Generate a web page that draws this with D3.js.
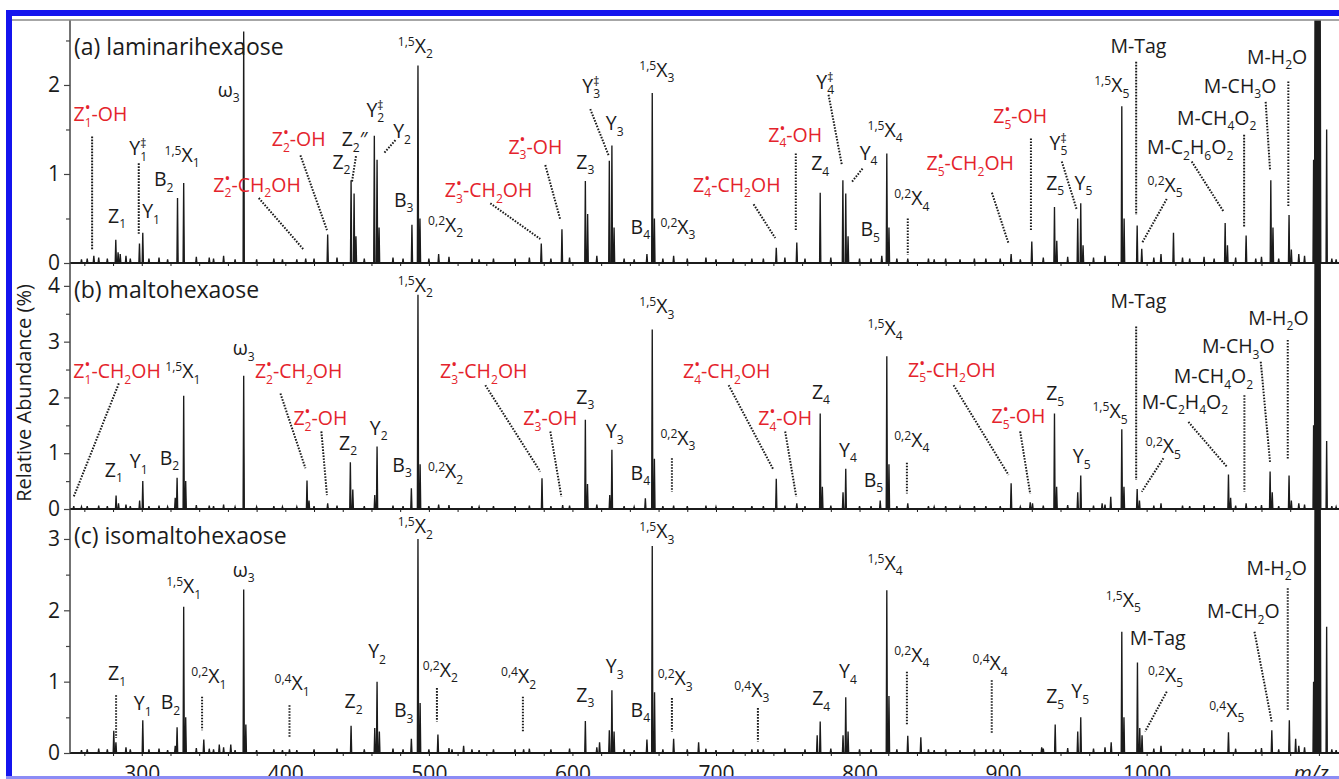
<!DOCTYPE html>
<html>
<head>
<meta charset="utf-8">
<script src="https://cdn.jsdelivr.net/npm/d3@7"></script>
<style>
body { margin: 0; background: #fff; }
svg { display: block; font-family: "Open Sans", sans-serif; }
</style>
</head>
<body>
<svg id="chart" width="1339" height="779"></svg>
<script>
// ---- data ----
var mzDomain = [250, 1134];
var xTickValues = [300, 400, 500, 600, 700, 800, 900, 1000];
var panelTitles = ["(a) laminarihexaose", "(b) maltohexaose", "(c) isomaltohexaose"];
var yMax = [2.73, 4.41, 3.42];
var yTicks = [[0, 1, 2], [0, 1, 2, 3, 4], [0, 1, 2, 3]];

// [m/z, relative abundance %]
var peaksA = [[266.6,0.08],[281.9,0.26],[283.5,0.12],[285,0.1],[298.4,0.22],[300.7,0.34],[324.9,0.73],[329.2,0.9],
  [371.0,2.6],[414.2,0.05],[429.5,0.32],[445.8,0.93],[447.9,0.78],[449.2,0.3],[462.0,1.43],[463.9,1.16],[465.3,0.4],
  [488.2,0.43],[492.4,2.22],[493.8,0.5],[506.8,0.1],[578.3,0.22],[592.7,0.38],[609.0,0.92],[610.6,0.55],[625.7,1.15],
  [627.5,1.32],[629,0.4],[651.9,0.1],[655.6,1.91],[657.1,0.5],[670.5,0.08],[742,0.17],[756.3,0.23],[772.6,0.79],
  [788.4,0.93],[790.4,0.78],[792,0.3],[815.5,0.08],[819.0,1.23],[820.5,0.4],[833.6,0.05],[905.6,0.1],[920.0,0.24],
  [935.8,0.63],[937.4,0.25],[952.0,0.5],[954.1,0.67],[955.7,0.2],[982.7,1.76],[984.3,0.5],[993.4,0.42],[996.6,0.16],
  [1018.7,0.34],[1054.7,0.45],[1056.3,0.2],[1069.3,0.31],[1086.5,0.93],[1088,0.4],[1099.2,0.54],[1100.8,0.15],
  [1116.3,1.16],[1125.4,1.5]];
var peaksB = [[252.6,0.05],[282.1,0.24],[283.8,0.1],[298.5,0.15],[300.7,0.5],[323.3,0.2],[324.6,0.56],[329.2,2.03],
  [330.6,0.5],[371.0,2.39],[415.1,0.51],[416.5,0.15],[429.5,0.1],[445.3,0.84],[447,0.35],[462.3,0.25],[463.9,1.12],
  [487.8,0.37],[492.4,3.84],[493.9,0.8],[506.8,0.08],[578.8,0.55],[593.2,0.07],[609.0,1.6],[610.5,0.45],[626,0.25],
  [627.5,1.06],[650.8,0.19],[655.6,3.22],[657.1,0.9],[670.5,0.06],[742.0,0.54],[756.3,0.1],[772.6,1.71],[774.1,0.4],
  [788.5,0.3],[790.4,0.72],[814.4,0.15],[819.0,2.74],[820.5,0.8],[833.6,0.1],[905.6,0.46],[918.9,0.12],[920.5,0.1],
  [935.8,1.71],[937.3,0.4],[952,0.3],[954.1,0.6],[969,0.1],[975.0,0.22],[982.7,1.43],[984.2,0.4],[993.4,0.36],
  [995,0.15],[1057.0,0.62],[1058.5,0.2],[1069.3,0.1],[1086.0,0.67],[1087.5,0.3],[1099.2,0.6],[1100.8,0.15],
  [1116.3,1.5],[1125.4,1.22]];
var peaksC = [[280.5,0.31],[282,0.15],[300.7,0.46],[323.3,0.1],[324.6,0.36],[329.2,2.05],[330.6,0.5],[343.2,0.19],
  [354,0.12],[362,0.12],[371.0,2.29],[372.5,0.4],[402.9,0.05],[445.8,0.38],[462.3,0.35],[463.9,1.0],[465.5,0.3],
  [487.8,0.2],[492.4,3.0],[493.9,0.7],[506.3,0.26],[516.1,0.05],[524.2,0.1],[566.0,0.05],[609.0,0.45],[618.9,0.15],
  [625.7,0.32],[627.5,0.88],[629,0.3],[651.9,0.19],[655.6,2.9],[657.2,0.85],[670.5,0.2],[687.9,0.15],[729.2,0.05],
  [770.5,0.25],[772.6,0.44],[788.5,0.25],[790.4,0.78],[792,0.3],[819.0,2.28],[820.5,0.8],[833.6,0.24],[842.7,0.22],
  [893.3,0.05],[926.9,0.08],[936.3,0.4],[952,0.3],[954.1,0.5],[975.3,0.15],[982.7,1.7],[984.2,0.5],[993.6,1.27],
  [995.2,0.35],[996.8,0.25],[1057.0,0.29],[1087.2,0.32],[1099.4,0.46],[1103.8,0.2],[1116.3,1.0],[1125.4,1.77]];
// precursor cluster (off scale in every panel)
var precursor = [[1117.3,60],[1118.2,100],[1119.1,100],[1120.0,70],[1120.9,15]];
// small baseline peaks common to all runs
var noise = [[258,0.04],[262,0.05],[270,0.06],[276,0.05],[289,0.08],[292,0.05],[305,0.05],[312,0.06],[318,0.04],
  [338,0.07],[347,0.06],[350,0.05],[357,0.08],[365,0.04],[380,0.04],[392,0.05],[398,0.04],[408,0.04],[420,0.05],
  [436,0.06],[455,0.05],[475,0.06],[482,0.05],[500,0.05],[514,0.07],[530,0.05],[535,0.04],[545,0.05],[560,0.05],
  [570,0.06],[585,0.05],[598,0.06],[617,0.08],[636,0.05],[643,0.04],[663,0.05],[680,0.05],[693,0.06],[700,0.04],
  [712,0.05],[725,0.05],[733,0.05],[748,0.06],[762,0.05],[780,0.06],[800,0.05],[808,0.05],[826,0.05],[848,0.05],
  [852,0.04],[860,0.05],[870,0.04],[880,0.05],[888,0.05],[898,0.05],[912,0.04],[928,0.06],[945,0.07],[963,0.06],
  [971,0.08],[1005,0.06],[1010,0.1],[1025,0.06],[1030,0.05],[1040,0.07],[1047,0.05],[1062,0.06],[1076,0.05],
  [1080,0.07],[1092,0.05],[1106,0.1],[1110,0.08],[1129,0.05],[1132,0.04]];

// annotations: [text, m/z centre, label baseline (%), red?]
var labelsA = [["Z_{1}^{•}-OH",271.2,1.59,1],["Y_{1}^{‡}",297.5,1.21,0],["Z_{1}",282.8,0.45,0],["Y_{1}",306.5,0.5,0],
  ["B_{2}",315.3,0.86,0],["^{1,5}X_{1}",328.1,1.14,0],["ω_{3}",360.6,1.87,0],["Z_{2}^{•}-CH_{2}OH",380.3,0.8,1],
  ["Z_{2}^{•}-OH",409.3,1.31,1],["Z_{2}″",448.3,1.31,0],["Z_{2}",439.1,1.06,0],["Y_{2}^{‡}",462.7,1.64,0],
  ["Y_{2}",481.3,1.4,0],["B_{3}",482.5,0.63,0],["^{1,5}X_{2}",490.6,2.36,0],["^{0,2}X_{2}",511.7,0.35,0],
  ["Z_{3}^{•}-CH_{2}OH",541.6,0.74,1],["Z_{3}^{•}-OH",574.2,1.23,1],["Z_{3}",609.0,1.06,0],["Y_{3}^{‡}",613.1,1.91,0],
  ["Y_{3}",629.4,1.49,0],["^{1,5}X_{3}",658.8,2.09,0],["B_{4}",647.3,0.33,0],["^{0,2}X_{3}",673.5,0.33,0],
  ["Z_{4}^{•}-CH_{2}OH",714.5,0.8,1],["Z_{4}^{•}-OH",755.2,1.36,1],["Z_{4}",772.6,1.04,0],["Y_{4}^{‡}",776.1,1.96,0],
  ["Y_{4}",806.3,1.16,0],["B_{5}",807.4,0.3,0],["^{1,5}X_{4}",817.8,1.42,0],["^{0,2}X_{4}",836.4,0.65,0],
  ["Z_{5}^{•}-CH_{2}OH",877.1,1.04,1],["Z_{5}^{•}-OH",911.9,1.57,1],["Y_{5}^{‡}",938.6,1.27,0],["Z_{5}",936.3,0.82,0],
  ["Y_{5}",956.0,0.82,0],["^{1,5}X_{5}",975.7,1.92,0],["M-Tag",994.3,2.36,0],["^{0,2}X_{5}",1012.9,0.8,0],
  ["M-C_{2}H_{6}O_{2}",1030.3,1.22,0],["M-CH_{4}O_{2}",1048.8,1.55,0],["M-CH_{3}O",1065.1,1.91,0],["M-H_{2}O",1090.9,2.24,0]];
var labelsB = [["Z_{1}^{•}-CH_{2}OH",282.8,2.34,1],["^{1,5}X_{1}",328.6,2.34,0],["ω_{3}",371.0,2.76,0],
  ["Z_{2}^{•}-CH_{2}OH",409.3,2.34,1],["Z_{2}^{•}-OH",424.4,1.5,1],["Z_{1}",280.5,0.58,0],["Y_{1}",297.9,0.73,0],
  ["B_{2}",319.3,0.79,0],["Z_{2}",443.7,1.06,0],["Y_{2}",465.0,1.33,0],["B_{3}",481.3,0.67,0],["^{1,5}X_{2}",490.6,3.89,0],
  ["^{0,2}X_{2}",511.7,0.55,0],["Z_{3}^{•}-CH_{2}OH",538.2,2.34,1],["Z_{3}^{•}-OH",584.6,1.5,1],["Z_{3}",609.0,1.89,0],
  ["Y_{3}",629.4,1.27,0],["B_{4}",647.3,0.52,0],["^{1,5}X_{3}",658.8,3.51,0],["^{0,2}X_{3}",673.5,1.15,0],
  ["Z_{4}^{•}-CH_{2}OH",707.5,2.34,1],["Z_{4}^{•}-OH",748.2,1.5,1],["Z_{4}",773.1,1.98,0],["Y_{4}",791.9,0.94,0],
  ["B_{5}",809.7,0.4,0],["^{1,5}X_{4}",817.8,3.12,0],["^{0,2}X_{4}",836.4,1.12,0],["Z_{5}^{•}-CH_{2}OH",864.3,2.37,1],
  ["Z_{5}^{•}-OH",910.7,1.54,1],["Z_{5}",936.3,1.95,0],["Y_{5}",954.8,0.82,0],["^{1,5}X_{5}",974.5,1.63,0],
  ["M-Tag",994.3,3.6,0],["M-C_{2}H_{4}O_{2}",1026.7,1.8,0],["^{0,2}X_{5}",1011.7,1.0,0],["M-CH_{4}O_{2}",1046.5,2.25,0],
  ["M-CH_{3}O",1063.9,2.79,0],["M-H_{2}O",1091.8,3.3,0]];
var labelsC = [["Z_{1}",282.8,1.02,0],["Y_{1}",300.7,0.6,0],["B_{2}",320.0,0.61,0],["^{1,5}X_{1}",329.2,2.24,0],
  ["^{0,2}X_{1}",346.7,0.98,0],["ω_{3}",371.0,2.47,0],["^{0,4}X_{1}",404.7,0.88,0],["Z_{2}",447.6,0.63,0],
  ["Y_{2}",463.9,1.33,0],["B_{3}",482.5,0.5,0],["^{1,5}X_{2}",490.6,3.08,0],["^{0,2}X_{2}",508.0,1.07,0],
  ["^{0,4}X_{2}",562.5,0.98,0],["Z_{3}",609.0,0.72,0],["Y_{3}",629.4,1.12,0],["B_{4}",647.3,0.51,0],
  ["^{1,5}X_{3}",658.8,3.01,0],["^{0,2}X_{3}",671.6,0.95,0],["^{0,4}X_{3}",725.0,0.79,0],["Z_{4}",773.3,0.67,0],
  ["Y_{4}",791.9,1.05,0],["^{1,5}X_{4}",817.8,2.57,0],["^{0,2}X_{4}",836.4,1.28,0],["^{0,4}X_{4}",891.0,1.16,0],
  ["Z_{5}",936.3,0.7,0],["Y_{5}",953.7,0.77,0],["^{1,5}X_{5}",983.8,2.05,0],["M-Tag",1007.7,1.51,0],
  ["^{0,2}X_{5}",1013.2,1.0,0],["^{0,4}X_{5}",1055.8,0.51,0],["M-CH_{2}O",1067.4,1.89,0],["M-H_{2}O",1090.6,2.5,0]];

// dotted leaders: [m/z1, %1, m/z2, %2]
var leadersA = [[265.4,1.42,265.4,0.15],[297.9,1.12,297.9,0.33],[381.5,0.73,412.8,0.15],[410.5,1.21,429.0,0.37],
  [449.2,1.2,446.4,0.91],[476.7,1.38,468.5,1.23],[542.8,0.67,577.6,0.27],[581.1,1.1,591.5,0.49],[612.4,1.73,625.2,1.21],
  [726.2,0.66,741.3,0.28],[755.6,1.23,755.6,0.37],[778.4,1.89,787.7,1.1],[802.1,1.06,794.6,0.91],[833.6,0.5,833.6,0.09],
  [892.2,0.79,903.8,0.22],[919.4,1.4,919.4,0.37],[940.9,1.14,951.3,0.6],[992.7,2.26,992.7,0.54],[1014.0,0.72,996.6,0.22],
  [1031.4,1.14,1053.5,0.58],[1067.9,1.44,1067.9,0.41],[1082.9,1.81,1086.0,1.04],[1098.7,2.04,1098.7,0.63]];
var leadersB = [[284.0,2.25,252.6,0.22],[396.6,2.07,414.0,0.73],[425.1,1.39,429.0,0.25],[539.3,2.22,577.6,0.67],
  [584.6,1.39,592.3,0.22],[669.3,0.91,669.3,0.31],[708.8,2.22,740.1,0.7],[748.2,1.39,755.9,0.22],[833.0,0.83,833.0,0.28],
  [865.5,2.22,903.8,0.61],[911.9,1.39,918.9,0.27],[992.7,3.27,992.7,0.52],[1029.1,1.56,1055.8,0.76],
  [1011.7,0.91,996.6,0.31],[1068.1,2.04,1068.1,0.31],[1079.5,2.64,1086.0,0.83],[1098.3,3.03,1098.3,0.89]];
var leadersC = [[282.1,0.81,282.1,0.21],[342.0,0.79,342.0,0.32],[402.9,0.67,402.9,0.21],[505.6,0.91,505.6,0.44],
  [565.5,0.79,565.5,0.3],[669.3,0.77,669.3,0.3],[729.2,0.63,729.2,0.16],[833.0,1.14,833.0,0.39],[892.1,1.02,892.1,0.28],
  [1014.0,0.86,998.9,0.3],[1075.1,1.7,1087.1,0.44],[1098.3,2.31,1098.3,0.6]];

var peakSets = [peaksA, peaksB, peaksC];
var labelSets = [labelsA, labelsB, labelsC];
var leaderSets = [leadersA, leadersB, leadersC];

// ---- layout ----
var svg = d3.select("#chart");
var W = 1339, H = 779;
var left = 70, right = 1339;
var panels = [{top: 20, base: 263}, {top: 263, base: 509}, {top: 509, base: 753}];
var red = "#e4232c", ink = "#1b1b1b";
var labelSize = 19.5;

var x = d3.scaleLinear().domain(mzDomain).range([left, right]);

// label with sub/superscripts: ^{..} sup, _{..} sub; a sup right after a sub is stacked on it
function addLabel(g, str, px, py, color, size) {
  var t = g.append("text")
    .attr("x", px).attr("y", py)
    .attr("text-anchor", "middle")
    .attr("fill", color)
    .style("font-size", size + "px");
  var parts = str.match(/(\^\{[^}]*\}|_\{[^}]*\}|[^\^_]+)/g);
  var shift = 0, prevSub = null, carry = 0;
  parts.forEach(function(p) {
    var kind = p[0] == "^" ? "sup" : (p[0] == "_" ? "sub" : "norm");
    var txt = kind == "norm" ? p : p.slice(2, -1);
    var target = kind == "sup" ? -size * 0.36 : (kind == "sub" ? size * 0.28 : 0);
    var small = size * 0.62;
    if (txt == "•") { target = -size * 0.42; small = size * 0.8; }
    var ts = t.append("tspan").text(txt).attr("dy", target - shift);
    if (kind != "norm") ts.style("font-size", small + "px");
    if (carry) { ts.attr("dx", carry); carry = 0; }
    if (kind == "sup" && prevSub) {
      var subW = prevSub.node().getComputedTextLength();
      ts.attr("dx", -subW);
      var supW = ts.node().getComputedTextLength();
      carry = Math.max(0, subW - supW);
    }
    shift = target;
    prevSub = kind == "sub" ? ts : null;
  });
}

var defs = svg.append("defs");

panels.forEach(function(p, i) {
  var y = d3.scaleLinear().domain([0, yMax[i]]).range([p.base, p.top]);
  var g = svg.append("g").attr("class", "panel");

  defs.append("clipPath").attr("id", "clip" + i)
    .append("rect").attr("x", left).attr("y", p.top)
    .attr("width", right - left).attr("height", p.base - p.top + 1);

  // spectrum: each peak a narrow triangle on the baseline
  var all = peakSets[i].concat(noise, precursor).sort(function(a, b) { return a[0] - b[0]; });
  var pts = [[mzDomain[0], 0]];
  var hw = 0.42;
  all.forEach(function(d) {
    pts.push([d[0] - hw, 0], [d[0], d[1]], [d[0] + hw, 0]);
  });
  pts.push([mzDomain[1], 0]);
  var line = d3.line().x(function(d) { return x(d[0]); }).y(function(d) { return y(Math.min(d[1], yMax[i] + 0.2)); });

  g.append("path")
    .attr("clip-path", "url(#clip" + i + ")")
    .attr("d", line(pts))
    .attr("fill", ink)
    .attr("stroke", ink)
    .attr("stroke-width", 1.35)
    .attr("stroke-linejoin", "miter");

  // baseline
  g.append("line")
    .attr("x1", left).attr("x2", right)
    .attr("y1", y(0)).attr("y2", y(0))
    .attr("stroke", ink).attr("stroke-width", 2);

  // minor m/z ticks on each baseline
  var minor = d3.range(260, 1134, 20);
  g.append("g")
    .attr("transform", "translate(0," + y(0) + ")")
    .call(d3.axisBottom(x).tickValues(minor).tickSize(3).tickFormat(""))
    .call(function(a) { a.select(".domain").remove(); a.selectAll("line").attr("stroke", ink); });

  // leaders
  g.selectAll("line.leader")
    .data(leaderSets[i])
    .enter().append("line")
    .attr("class", "leader")
    .attr("x1", function(d) { return x(d[0]); })
    .attr("y1", function(d) { return y(d[1]); })
    .attr("x2", function(d) { return x(d[2]); })
    .attr("y2", function(d) { return y(d[3]); })
    .attr("stroke", ink)
    .attr("stroke-width", 2)
    .attr("stroke-dasharray", "1.6,1.4");

  // ion labels
  labelSets[i].forEach(function(d) {
    addLabel(g, d[0], x(d[1]), y(d[2]), d[3] ? red : ink, labelSize);
  });

  // panel title
  g.append("text")
    .attr("x", left + 4)
    .attr("y", p.top + 35)
    .attr("fill", ink)
    .style("font-size", "23px")
    .text(panelTitles[i]);

  // y axis ticks + labels
  var ya = g.append("g")
    .attr("transform", "translate(" + left + ",0)")
    .call(d3.axisLeft(y).tickValues(yTicks[i]).tickSize(6).tickPadding(4).tickFormat(d3.format("d")));
  ya.select(".domain").remove();
  ya.selectAll("line").attr("stroke", "#444").attr("stroke-width", 1.2);
  ya.selectAll("text").attr("fill", ink).style("font-size", "21px").style("font-family", "Open Sans, sans-serif");

  var halfTicks = yTicks[i].map(function(v) { return v + 0.5; }).filter(function(v) { return v < yMax[i]; });
  g.append("g")
    .attr("transform", "translate(" + left + ",0)")
    .call(d3.axisLeft(y).tickValues(halfTicks).tickSize(4).tickFormat(""))
    .call(function(a) { a.select(".domain").remove(); a.selectAll("line").attr("stroke", "#444").attr("stroke-width", 1.2); });
});

// y axis line and top frame
svg.append("line").attr("x1", left).attr("x2", left).attr("y1", 20).attr("y2", 753)
  .attr("stroke", "#444").attr("stroke-width", 1.5);
svg.append("line").attr("x1", 12).attr("x2", W).attr("y1", 20).attr("y2", 20)
  .attr("stroke", "#888").attr("stroke-width", 1.5);

// x axis labels
var xa = svg.append("g")
  .attr("transform", "translate(0,753)")
  .call(d3.axisBottom(x).tickValues(xTickValues).tickSize(0).tickFormat(d3.format("d")));
xa.select(".domain").remove();
xa.selectAll("text").attr("y", 28).attr("dy", 0).attr("fill", ink)
  .style("font-size", "21px").style("font-family", "Open Sans, sans-serif");

svg.append("text")
  .attr("x", 1311).attr("y", 781)
  .attr("text-anchor", "middle")
  .attr("fill", ink)
  .style("font-size", "21px")
  .style("font-style", "italic")
  .text("m/z");

// y axis title
svg.append("text")
  .attr("transform", "translate(31,393) rotate(-90)")
  .attr("text-anchor", "middle")
  .attr("fill", ink)
  .style("font-size", "20px")
  .text("Relative Abundance (%)");

// blue page border
svg.append("rect").attr("x", 6).attr("y", 10).attr("width", W - 6).attr("height", 6).attr("fill", "#1414ee");
svg.append("rect").attr("x", 6).attr("y", 10).attr("width", 6).attr("height", H - 10).attr("fill", "#1414ee");
svg.append("rect").attr("x", 6).attr("y", 776).attr("width", W - 6).attr("height", 3).attr("fill", "#8c8cf5");
</script>
</body>
</html>
